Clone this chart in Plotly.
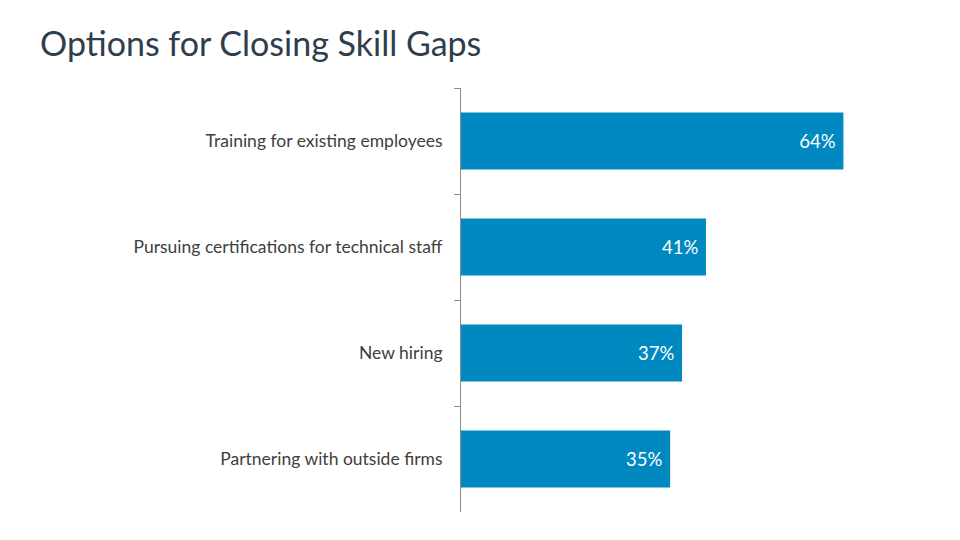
import plotly.graph_objects as go

categories = ["Training for existing employees",
              "Pursuing certifications for technical staff",
              "New hiring",
              "Partnering with outside firms"]
values = [64, 41, 37, 35]
title_text = "Options for Closing Skill Gaps"

fig = go.Figure(go.Bar(
    x=values, y=categories, orientation="h",
    marker=dict(color="#0088C0", line=dict(width=0)),
    text=[f"{v}%\u00a0" for v in values],
    textposition="inside", insidetextanchor="end",
    textfont=dict(family="Lato", size=18.5, color="white"),
    width=0.54,
    hoverinfo="skip",
))

fig.update_layout(
    width=960, height=540,
    margin=dict(l=453, r=29, t=80, b=36),
    paper_bgcolor="white", plot_bgcolor="white",
    showlegend=False,
    title=dict(text=title_text, x=32/960, xanchor="left", y=1-36/540, yanchor="middle",
               font=dict(family="Lato", size=34, color="#2F3D4C")),
    font=dict(family="Lato", color="#404040"),
)
fig.update_xaxes(range=[0, 80], visible=False, fixedrange=True)
fig.update_yaxes(
    type="category", categoryorder="array", categoryarray=categories,
    autorange=False, range=[3.5, -0.5],
    showline=True, linecolor="#8C8C8C", linewidth=1,
    ticks="outside", ticklen=6, tickcolor="#8C8C8C", tickwidth=1,
    tickson="boundaries", showgrid=False, zeroline=False,
    tickfont=dict(family="Lato", size=17.5, color="#404040"),
    ticklabelstandoff=14,
)

fig.write_html("out.html")
